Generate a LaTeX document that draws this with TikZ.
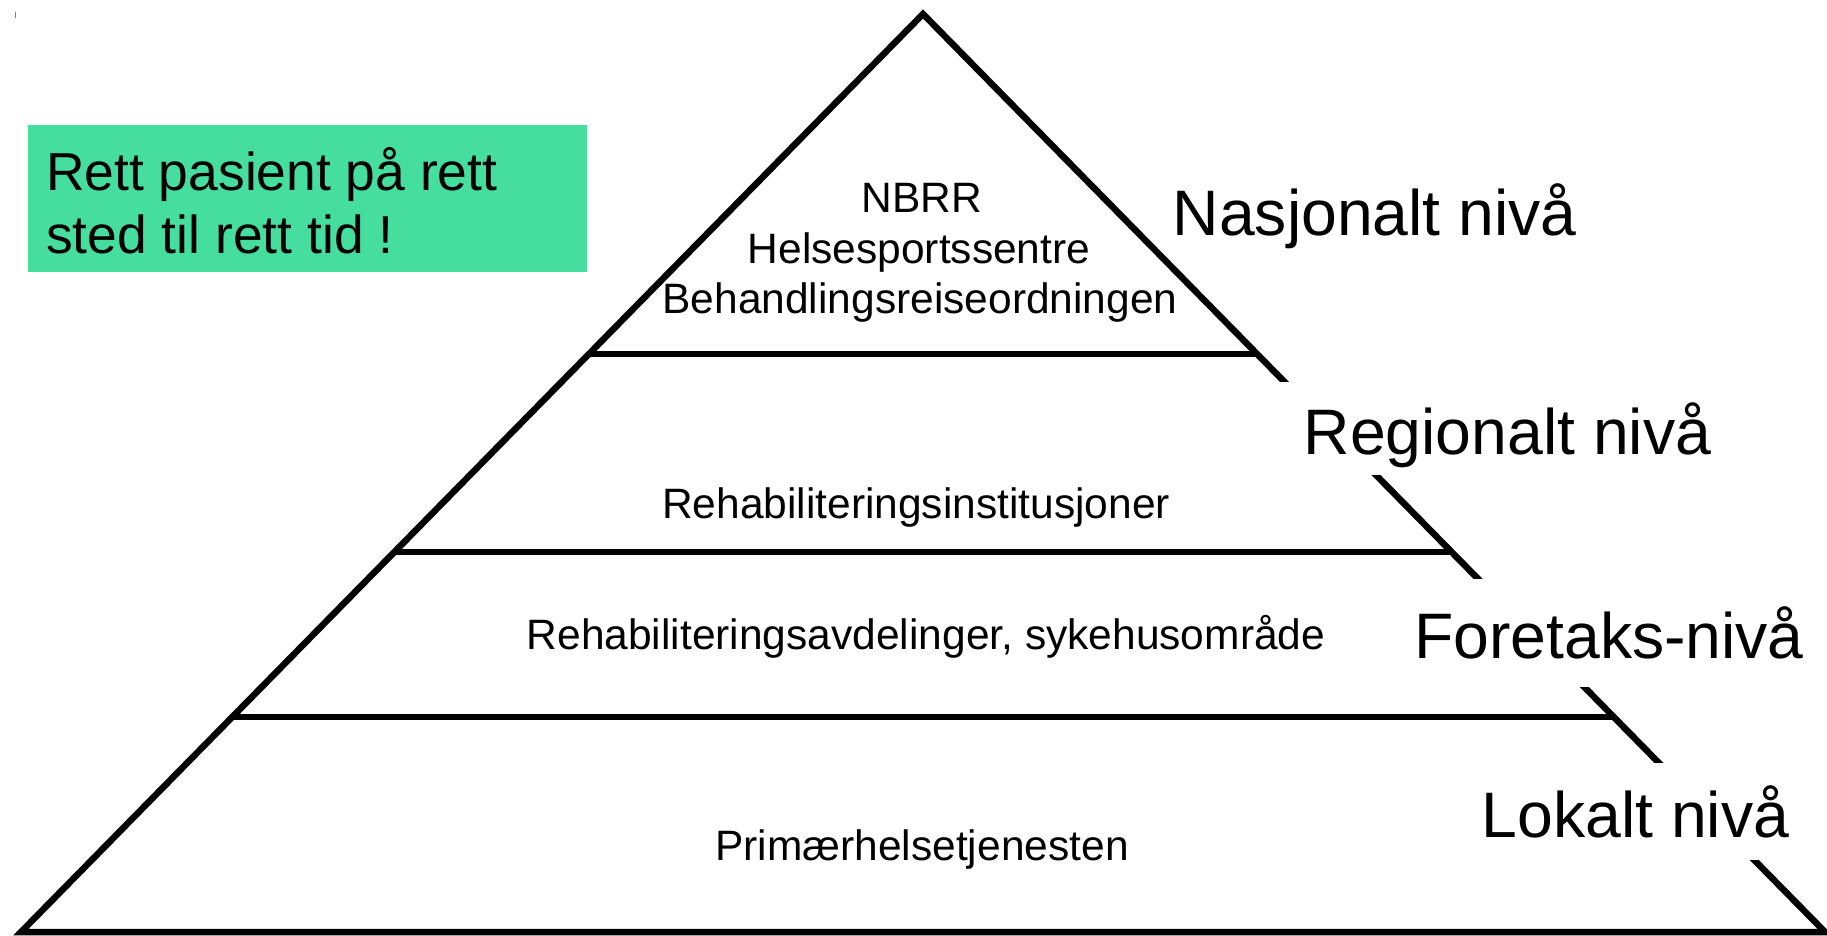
\documentclass[tikz,border=0pt]{standalone}
\usepackage{fontspec}
\setmainfont{Liberation Sans}
\usetikzlibrary{calc}
\definecolor{boxgreen}{RGB}{69,222,159}
\begin{document}
\begin{tikzpicture}[x=1pt,y=-1pt,
  pyr/.style={line width=6.5pt, line join=miter},
  lvl/.style={font=\fontsize{64.3}{77}\selectfont, anchor=base west, inner sep=0pt},
  txt/.style={font=\fontsize{42.5}{51}\selectfont, anchor=base, inner sep=0pt},
  motto/.style={font=\fontsize{53.4}{63}\selectfont, anchor=base west, inner sep=0pt},
  ]
\useasboundingbox (0,0) rectangle (1827,936);
% tiny mark
\draw[gray, line width=1pt] (15.5,12) -- (15.5,18);
% pyramid outline
\coordinate (A) at (923,14);
\coordinate (BL) at (21,932);
\coordinate (BR) at (1825,932);
\draw[pyr] (BL) -- (A) -- (BR) -- cycle;
% gaps in the right edge
\fill[white] (1260,382) rectangle (1827,475);
\fill[white] (1440,579) rectangle (1827,687);
\fill[white] (1630,763) rectangle (1827,860);
% level dividers
\coordinate (L1) at ($(A)!0.3704!(BL)$);
\coordinate (R1) at ($(A)!0.3704!(BR)$);
\coordinate (L2) at ($(A)!0.5861!(BL)$);
\coordinate (R2) at ($(A)!0.5861!(BR)$);
\coordinate (L3) at ($(A)!0.7658!(BL)$);
\coordinate (R3) at ($(A)!0.7658!(BR)$);
\draw[pyr] (L1) -- (R1);
\draw[pyr] (L2) -- (R2);
\draw[pyr] (L3) -- (R3);
% inner texts
\node[txt] (t1) at (922,212) {NBRR};
\node[txt] (t2) at (919,263) {Helsesportssentre};
\node[txt] (t3) at (920,313) {Behandlingsreiseordningen};
\node[txt] (t4) at (916,518) {Rehabiliteringsinstitusjoner};
\node[txt] (t5) at (926,649) {Rehabiliteringsavdelinger, sykehusområde};
\node[txt] (t6) at (922,860) {Primærhelsetjenesten};
% level labels
\node[lvl] (n1) at (1172.5,235) {Nasjonalt nivå};
\node[lvl] (n2) at (1303.5,454) {Regionalt nivå};
\node[lvl] (n3) at (1414,658) {Foretaks-nivå};
\node[lvl] (n4) at (1481.5,837) {Lokalt nivå};
% green box
\fill[boxgreen] (28,125) rectangle (587,271.5);
\node[motto] (m1) at (46,190) {Rett pasient på rett};
\node[motto] (m2) at (46,253) {sted til rett tid !};
\end{tikzpicture}
\end{document}
